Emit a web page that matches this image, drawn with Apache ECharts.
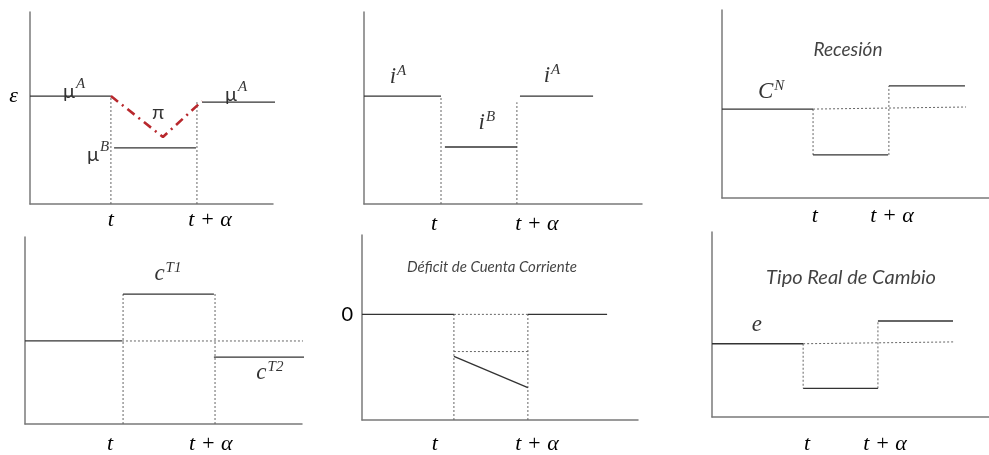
<!DOCTYPE html>
<html><head><meta charset="utf-8">
<script src="https://cdn.jsdelivr.net/npm/echarts@6/dist/echarts.min.js"></script>
<style>html,body{margin:0;padding:0;background:#fff}#c{width:989px;height:455px}</style>
</head><body><div id="c"></div>
<script>
// ---------- Panel 1: ε, μA → μB → μA, π ----------
const p1Ticks = [33.3, 74.1];
const p1TickText = ['t', 't + α'];
const p1MuALeft = [[0, 56.2], [33.3, 56.2]];
const p1MuARight = [[70.8, 53.1], [104.1, 53.1]];
const p1MuB = [[34.6, 29.2], [68.3, 29.2]];
const p1Pi = [[33.3, 56.2], [54.7, 34.9], [70.8, 53.6]];
const p1VertT = [[33.3, 0], [33.3, 56.2]];
const p1VertTA = [[68.7, 0], [68.7, 53.1]];
const p1YTicks = [56.2];
const p1Labels = [[18.1, 59.9, '{u|μ}{s|A}'], [52.7, 47.4, '{u|π}'], [28, 27, '{u|μ}{s|B}'], [84.8, 58.3, '{u|μ}{s|A}']];

// ---------- Panel 2: i ----------
const p2Ticks = [25.2, 62.2];
const p2IALeft = [[0, 56.2], [27.7, 56.2]];
const p2IB = [[29.1, 29.7], [55.0, 29.7]];
const p2IARight = [[56.1, 56.2], [82.4, 56.2]];
const p2VertT = [[27.7, 0], [27.7, 56.2]];
const p2VertTA = [[55.0, 0], [55.0, 53]];
const p2Labels = [[12.2, 66.7, '{i|i}{s|A}'], [44.2, 42.7, '{i|i}{s|B}'], [67.6, 67.2, '{i|i}{s|A}']];

// ---------- Panel 3: Recesión ----------
const p3Ticks = [34.8, 63.7];
const p3CN = [[0, 47.3], [34.1, 47.3]];
const p3Trend = [[34.1, 47.3], [91.4, 48.4]];
const p3Low = [[34.1, 22.9], [62.2, 22.9]];
const p3High = [[62.5, 59.6], [91.0, 59.6]];
const p3VertT = [[34.1, 47.3], [34.1, 22.9]];
const p3VertTA = [[62.5, 22.9], [62.5, 59.6]];
const p3Labels = [[47.2, 78.7, '{t|Recesión}'], [18.4, 56.9, '{i|C}{s|N}']];

// ---------- Panel 4: consumo de transables ----------
const p4Ticks = [30.7, 67.1];
const p4Base = [[0, 44.4], [35.0, 44.4]];
const p4Trend = [[35.0, 44.4], [102.9, 44.4]];
const p4High = [[35.4, 69.5], [68.2, 69.5]];
const p4Low = [[68.2, 35.8], [102.9, 35.8]];
const p4VertT = [[35.4, 0], [35.4, 69.5]];
const p4VertTA = [[68.6, 0], [68.6, 69.5]];
const p4Labels = [[51.6, 80.7, '{i|c}{s|T1}'], [88.4, 27.8, '{i|c}{s|T2}']];

// ---------- Panel 5: Déficit de Cuenta Corriente ----------
const p5Ticks = [26.4, 63.4];
const p5YTicks = [57.1];
const p5ZeroLeft = [[0, 57.1], [33.3, 57.1]];
const p5ZeroMid = [[33.3, 57.1], [60.1, 57.1]];
const p5ZeroRight = [[60.1, 57.1], [88.8, 57.1]];
const p5VertT = [[33.3, 0], [33.3, 57.1]];
const p5VertTA = [[60.1, 0], [60.1, 57.1]];
const p5Flat = [[33.3, 37.0], [60.1, 37.0]];
const p5Slope = [[33.3, 34.4], [60.1, 17.5]];
const p5Labels = [[47.1, 82.5, '{ts|Déficit de Cuenta Corriente}']];

// ---------- Panel 6: Tipo Real de Cambio ----------
const p6Ticks = [34.3, 62.5];
const p6Base = [[0, 39.6], [32.9, 39.6]];
const p6Trend = [[32.9, 39.6], [87.7, 40.6]];
const p6Low = [[32.9, 15.5], [59.9, 15.5]];
const p6High = [[59.9, 51.9], [87.0, 51.9]];
const p6VertT = [[32.9, 39.6], [32.9, 15.5]];
const p6VertTA = [[59.9, 15.5], [59.9, 51.9]];
const p6Labels = [[50.2, 75.4, '{tl|Tipo Real de Cambio}'], [16.2, 49.7, '{i|e}']];

// ---------- styling / building ----------
const SOLID = '#333', DOT = '#666', AXIS = '#7a7a7a';
const SERIF = 'Liberation Serif';
const rich = {
  u: {fontFamily: 'Lato', fontSize: 20, color: '#000', verticalAlign: 'bottom'},
  i: {fontFamily: SERIF, fontStyle: 'italic', fontSize: 23, color: '#000', verticalAlign: 'bottom'},
  s: {fontFamily: SERIF, fontStyle: 'italic', fontSize: 15, color: '#000', verticalAlign: 'bottom', padding: [0, 0, 10, 1]},
  t: {fontFamily: 'Lato', fontStyle: 'italic', fontSize: 19, color: '#111'},
  ts: {fontFamily: 'Lato', fontStyle: 'italic', fontSize: 15, color: '#111'},
  tl: {fontFamily: 'Lato', fontStyle: 'italic', fontSize: 20, color: '#111'}
};

const gridBoxes = [
  {left: 30, top: 12, width: 243, height: 192},
  {left: 364, top: 12, width: 278, height: 192},
  {left: 722, top: 10, width: 267, height: 188},
  {left: 25, top: 237, width: 277, height: 187},
  {left: 362, top: 235, width: 276, height: 189},
  {left: 712, top: 232, width: 277, height: 187}
];
const xTicks = [p1Ticks, p2Ticks, p3Ticks, p4Ticks, p5Ticks, p6Ticks];
const xMargins = [5, 9, 7, 9, 13, 16];
const yTicks = [p1YTicks, null, null, null, p5YTicks, null];
const yTickText = ['ε', null, null, null, '0', null];
const yMargins = [12, 0, 0, 0, 9, 0];

const xAxes = gridBoxes.map((g, k) => ({
  gridIndex: k, type: 'value', min: 0, max: 100,
  axisLine: {show: true, lineStyle: {color: AXIS, width: 1.5}},
  axisTick: {show: false}, splitLine: {show: false},
  axisLabel: {
    show: true, customValues: xTicks[k], margin: xMargins[k],
    fontFamily: SERIF, fontStyle: 'italic', fontSize: 22, color: '#000',
    formatter: v => (v === xTicks[k][0] ? p1TickText[0] : p1TickText[1])
  }
}));
const yAxes = gridBoxes.map((g, k) => ({
  gridIndex: k, type: 'value', min: 0, max: 100,
  axisLine: {show: true, lineStyle: {color: AXIS, width: 1.5}},
  axisTick: {show: false}, splitLine: {show: false},
  axisLabel: yTicks[k] ? {
    show: true, customValues: yTicks[k], margin: yMargins[k],
    fontFamily: k === 0 ? SERIF : 'Lato', fontStyle: k === 0 ? 'italic' : 'normal', fontSize: k === 0 ? 22 : 20, color: '#000',
    formatter: () => yTickText[k]
  } : {show: false}
}));

const series = [];
function line(k, data, kind) {
  let ls;
  if (kind === 'solid') ls = {color: SOLID, width: 1.3, type: 'solid'};
  else if (kind === 'dot') ls = {color: DOT, width: 1, type: [2, 2]};
  else ls = {color: '#b8282d', width: 2.6, type: [9, 5, 2, 5]};
  series.push({type: 'line', xAxisIndex: k, yAxisIndex: k, data, symbol: 'none',
    lineStyle: ls, clip: false, silent: true, animation: false, z: kind === 'red' ? 5 : 3});
}
function labels(k, arr) {
  series.push({type: 'scatter', xAxisIndex: k, yAxisIndex: k, symbolSize: 1,
    itemStyle: {color: 'rgba(0,0,0,0)'}, silent: true, animation: false, clip: false,
    data: arr.map(a => ({value: [a[0], a[1]], label: {formatter: a[2]}})),
    label: {show: true, position: 'inside', rich: rich}});
}

// panel 1
[p1VertT, p1VertTA].forEach(d => line(0, d, 'dot'));
[p1MuALeft, p1MuARight, p1MuB].forEach(d => line(0, d, 'solid'));
line(0, p1Pi, 'red');
labels(0, p1Labels);
// panel 2
[p2VertT, p2VertTA].forEach(d => line(1, d, 'dot'));
[p2IALeft, p2IB, p2IARight].forEach(d => line(1, d, 'solid'));
labels(1, p2Labels);
// panel 3
[p3Trend, p3VertT, p3VertTA].forEach(d => line(2, d, 'dot'));
[p3CN, p3Low, p3High].forEach(d => line(2, d, 'solid'));
labels(2, p3Labels);
// panel 4
[p4Trend, p4VertT, p4VertTA].forEach(d => line(3, d, 'dot'));
[p4Base, p4High, p4Low].forEach(d => line(3, d, 'solid'));
labels(3, p4Labels);
// panel 5
[p5ZeroMid, p5VertT, p5VertTA, p5Flat].forEach(d => line(4, d, 'dot'));
[p5ZeroLeft, p5ZeroRight, p5Slope].forEach(d => line(4, d, 'solid'));
labels(4, p5Labels);
// panel 6
[p6Trend, p6VertT, p6VertTA].forEach(d => line(5, d, 'dot'));
[p6Base, p6Low, p6High].forEach(d => line(5, d, 'solid'));
labels(5, p6Labels);

const chart = echarts.init(document.getElementById('c'), null, {renderer: 'canvas'});
chart.setOption({
  backgroundColor: '#fff', animation: false,
  grid: gridBoxes.map(g => Object.assign({containLabel: false}, g)),
  xAxis: xAxes, yAxis: yAxes, series
});
</script></body></html>
